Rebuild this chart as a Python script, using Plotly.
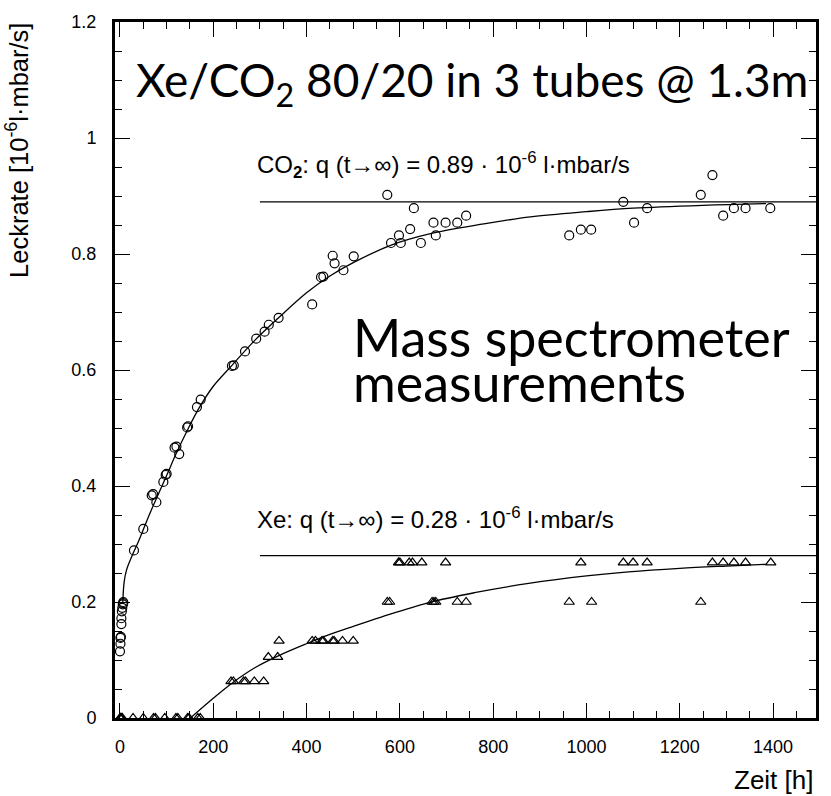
import plotly.graph_objects as go

# CO2 leak-rate measurements (time in h, rate in 1e-6 l*mbar/s)
co2_t = [0, 1, 1, 2, 3, 3, 4, 5, 6, 7, 7,
         30, 50, 68, 71, 78, 93, 98, 100, 117, 121, 127, 144, 146, 165, 173,
         240, 244, 268, 292, 310, 319, 340, 412, 431, 436, 456, 460, 479, 501,
         573, 581, 598, 602, 622, 630, 645, 672, 677, 698, 723, 742,
         963, 988, 1010, 1079, 1102, 1130, 1245, 1270, 1293, 1316, 1341, 1394]
co2_q = [0.115, 0.128, 0.138, 0.140, 0.162, 0.172, 0.184, 0.190, 0.196, 0.198, 0.200,
         0.289, 0.326, 0.384, 0.386, 0.372, 0.407, 0.419, 0.421, 0.466, 0.468, 0.455, 0.501, 0.503, 0.536, 0.549,
         0.607, 0.608, 0.632, 0.654, 0.666, 0.678, 0.690, 0.713, 0.760, 0.761, 0.797, 0.784, 0.772, 0.796,
         0.902, 0.819, 0.832, 0.819, 0.843, 0.879, 0.819, 0.854, 0.832, 0.854, 0.854, 0.866,
         0.832, 0.842, 0.842, 0.890, 0.854, 0.879, 0.902, 0.936, 0.866, 0.879, 0.879, 0.879]

# Xe leak-rate measurements
xe_t = [0, 1, 2, 3, 5, 28, 50, 72, 76, 96, 120, 124, 145, 148, 167, 172,
        238, 243, 265, 269, 288, 308,
        318, 338,
        341, 412, 419, 433, 436, 456, 459, 477, 500,
        573, 578, 669, 673, 677, 723, 742, 963, 1011, 1245,
        597, 600, 620, 627, 647, 698, 988, 1079, 1100, 1130, 1270, 1293, 1316, 1341, 1395]
xe_q = [0] * 16 + [0.063] * 6 + [0.105] * 2 + [0.133] * 9 + [0.200] * 10 + [0.268] * 15

# Fitted saturation curves
co2_fit_t = [6, 9, 14, 25, 40, 60, 80, 100, 120, 145, 170, 200, 240, 290, 340, 400,
             450, 500, 580, 670, 780, 880, 1000, 1100, 1250, 1385]
co2_fit_q = [0.198, 0.235, 0.255, 0.278, 0.305, 0.345, 0.382, 0.418, 0.455, 0.497, 0.535,
             0.572, 0.608, 0.652, 0.690, 0.733, 0.762, 0.785, 0.815, 0.836, 0.852, 0.864,
             0.873, 0.879, 0.884, 0.887]
xe_fit_t = [151, 200, 240, 290, 342, 400, 450, 500, 560, 662, 760, 876, 1000, 1090, 1200, 1300, 1385]
xe_fit_q = [0, 0.034, 0.060, 0.087, 0.108, 0.128, 0.144, 0.158, 0.174, 0.199, 0.216, 0.232,
            0.245, 0.252, 0.258, 0.262, 0.265]

# Asymptotic values q(t -> inf)
co2_inf = 0.89
xe_inf = 0.28
asym_t = [300, 1492]

x_ticks = [0, 200, 400, 600, 800, 1000, 1200, 1400]
y_ticks = [0, 0.2, 0.4, 0.6, 0.8, 1.0, 1.2]
y_ticktext = ["0", "0.2", "0.4", "0.6", "0.8", "1", "1.2"]

BLACK = "black"
TICKFONT = dict(family="Liberation Sans, Arial, sans-serif", size=18, color=BLACK)
LABELFONT = dict(family="Liberation Sans, Arial, sans-serif", size=24, color=BLACK)
BIGFONT = dict(family="Lato, sans-serif", size=46, color=BLACK)

fig = go.Figure()

fig.add_trace(go.Scatter(x=asym_t, y=[co2_inf, co2_inf], mode="lines",
                         line=dict(color=BLACK, width=1.3), showlegend=False))
fig.add_trace(go.Scatter(x=asym_t, y=[xe_inf, xe_inf], mode="lines",
                         line=dict(color=BLACK, width=1.3), showlegend=False))
fig.add_trace(go.Scatter(x=co2_fit_t, y=co2_fit_q, mode="lines",
                         line=dict(color=BLACK, width=1.3, shape="spline"), showlegend=False))
fig.add_trace(go.Scatter(x=xe_fit_t, y=xe_fit_q, mode="lines",
                         line=dict(color=BLACK, width=1.3, shape="spline"), showlegend=False))
fig.add_trace(go.Scatter(x=co2_t, y=co2_q, mode="markers",
                         marker=dict(symbol="circle-open", size=9, color=BLACK,
                                     line=dict(width=1.2, color=BLACK)),
                         showlegend=False))
fig.add_trace(go.Scatter(x=xe_t, y=xe_q, mode="markers",
                         marker=dict(symbol="triangle-up-open", size=9, color=BLACK,
                                     line=dict(width=1.2, color=BLACK)),
                         showlegend=False))

L, R, T, B = 115, 12, 14, 78
W, H = 831, 796
PW, PH = W - L - R, H - T - B


def px(x):
    return (x - L) / PW


def py(y):
    return (H - B - y) / PH


annotations = [
    dict(text="CO<sub><b>2</b></sub>: q (t→∞) = 0.89 · 10<sup>-6</sup> l·mbar/s",
         x=px(256), y=py(159), xanchor="left", yanchor="middle", font=LABELFONT),
    dict(text="Xe: q (t→∞) = 0.28 · 10<sup>-6</sup> l·mbar/s",
         x=px(256), y=py(516), xanchor="left", yanchor="middle", font=LABELFONT),
    dict(text="Xe/CO<sub>2</sub> 80/20 in 3 tubes @ 1.3m",
         x=px(134), y=py(76), xanchor="left", yanchor="middle", font=BIGFONT),
    dict(text="Mass spectrometer", x=px(352), y=py(333), xanchor="left", yanchor="middle",
         font=dict(BIGFONT, size=52)),
    dict(text="measurements", x=px(352), y=py(378), xanchor="left", yanchor="middle",
         font=dict(BIGFONT, size=52)),
    dict(text="Zeit [h]", x=px(818), y=py(781), xanchor="right", yanchor="middle",
         font=dict(LABELFONT, size=26)),
    dict(text="Leckrate [10<sup>-6</sup>l·mbar/s]", x=px(16), y=py(13), textangle=-90,
         xanchor="center", yanchor="top", font=dict(LABELFONT, size=25.5)),
]
for a in annotations:
    a.update(xref="paper", yref="paper", showarrow=False)

axis_common = dict(showline=True, linewidth=3, linecolor=BLACK, mirror="allticks",
                   ticks="inside", ticklen=15, tickwidth=1, tickcolor=BLACK,
                   showgrid=False, zeroline=False, tickfont=TICKFONT)

fig.update_layout(
    width=W, height=H,
    margin=dict(l=L, r=R, t=T, b=B),
    paper_bgcolor="white", plot_bgcolor="white",
    xaxis=dict(axis_common, range=[-10.67, 1492], tickvals=x_ticks,
               ticktext=[str(v) for v in x_ticks], ticklabelstandoff=10,
               minor=dict(dtick=50, tick0=0, ticks="inside", ticklen=7, tickwidth=1,
                          tickcolor=BLACK, showgrid=False)),
    yaxis=dict(axis_common, range=[0, 1.2], tickvals=y_ticks, ticktext=y_ticktext,
               ticklabelstandoff=12,
               minor=dict(dtick=0.05, tick0=0, ticks="inside", ticklen=7, tickwidth=1,
                          tickcolor=BLACK, showgrid=False)),
    annotations=annotations,
)

fig.write_html("out.html")
